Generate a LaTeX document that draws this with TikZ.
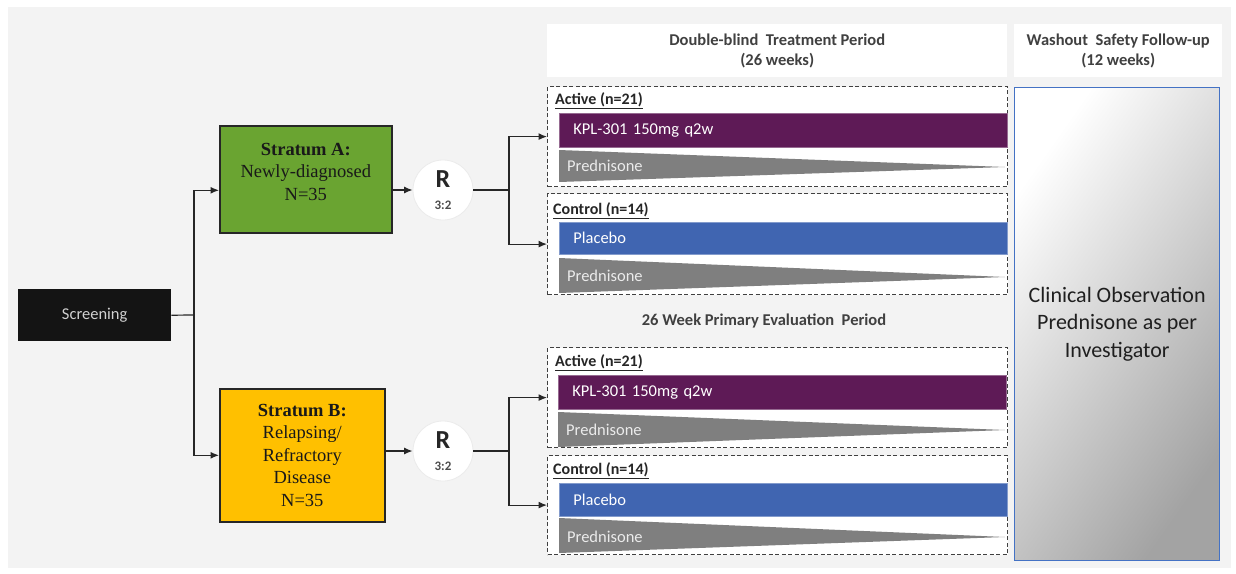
\documentclass[tikz,border=0pt]{standalone}
\usepackage{fontspec}
\setmainfont{Carlito}
\newfontfamily\stfont{Liberation Serif}
\usetikzlibrary{arrows.meta,calc,shadings}
\definecolor{bgc}{HTML}{F3F3F3}
\definecolor{stgreen}{HTML}{6AA431}
\definecolor{stgold}{HTML}{FFC000}
\definecolor{kpl}{HTML}{5E1A56}
\definecolor{plc}{HTML}{4065B1}
\definecolor{pred}{HTML}{7F7F7F}
\definecolor{hdr}{HTML}{404040}
\definecolor{pnl}{HTML}{4472C4}
\begin{document}
\begin{tikzpicture}[x=1pt,y=-1pt,
  ln/.style={line width=1.2pt, black!85},
  arr/.style={ln, -{Latex[length=8.5pt,width=7pt]}},
  hdrbox/.style={fill=white, inner sep=0pt, align=center, text=hdr,
     font=\bfseries\fontsize{16.5}{20}\selectfont, anchor=north west},
  stratum/.style={draw=black!85, line width=1.6pt, inner sep=0pt, align=center,
     anchor=north west, font=\stfont\fontsize{18.5}{22.5}\selectfont, text=black!90},
  rc/.style={circle, fill=white, draw=black!8, line width=0.8pt, minimum size=60pt,
     inner sep=0pt, align=center},
  dbox/.style={draw=black!75, dash pattern=on 4pt off 2.5pt, line width=1.2pt,
     fill=white, inner sep=0pt, anchor=north west, minimum width=460pt},
  bar/.style={anchor=north west, inner sep=0pt, minimum width=448pt, text=white,
     font=\fontsize{16.5}{18}\selectfont, text width=436pt, align=left, inner xsep=0pt},
  grp/.style={anchor=west, inner sep=0pt, text=black!85,
     font=\bfseries\fontsize{16}{18}\selectfont},
  prd/.style={anchor=west, inner sep=0pt, text=white!92!black,
     font=\fontsize{16.5}{18}\selectfont}
]
\useasboundingbox (0,0) rectangle (1236,573);
\fill[white] (0,0) rectangle (1236,573);
\fill[bgc] (8,7) rectangle (1231,568);

% headers
\node[hdrbox, minimum width=460pt, minimum height=53pt] (h1) at (547,24)
  {Double-blind\ \ Treatment Period\\(26 weeks)};
\node[hdrbox, minimum width=208pt, minimum height=53pt] (h2) at (1014,24)
  {Washout\ \ Safety Follow-up\\(12 weeks)};

% screening
\node[fill=black!92, text=black!18, minimum width=153pt, minimum height=52pt,
  inner sep=0pt, anchor=north west, font=\fontsize{16.5}{18}\selectfont] (scr) at (18,289) {Screening};

% strata
\node[stratum, fill=stgreen, minimum width=172pt, minimum height=107pt] (stA) at (219,125)
  {\textbf{Stratum A:}\\Newly-diagnosed\\N=35\\[-7.5pt]};
\node[stratum, fill=stgold, minimum width=165pt, minimum height=133pt] (stB) at (219,388)
  {\textbf{Stratum B:}\\Relapsing/\\Refractory\\Disease\\N=35};

% randomisation
\node[rc] (rA) at (443,190)
  {{\fontsize{26}{22}\selectfont\bfseries\color{black!85}R}\\[10pt]{\fontsize{13}{13}\selectfont\bfseries\color{black!70}3:2}};
\node[rc] (rB) at (443,451)
  {{\fontsize{26}{22}\selectfont\bfseries\color{black!85}R}\\[10pt]{\fontsize{13}{13}\selectfont\bfseries\color{black!70}3:2}};

% dashed arm boxes
\node[dbox, minimum height=100pt] (actA) at (547,86) {};
\node[dbox, minimum height=101pt] (ctlA) at (547,193) {};
\node[dbox, minimum height=100pt] (actB) at (547,347) {};
\node[dbox, minimum height=99pt] (ctlB) at (547,455) {};

% arm A active
\node[grp] (lA1) at (555,101) {\underline{Active (n=21)}};
\node[bar, fill=kpl, draw=kpl!65!white, line width=0.6pt, minimum height=34pt] (kA) at (559,113)
  {\hspace*{8pt}KPL-301 150mg q2w};
\fill[pred] (559,150) -- (1005,167) -- (559,182) -- cycle;
\node[prd] (pA1) at (567,166) {Prednisone};
% arm A control
\node[grp] (lA2) at (553,211) {\underline{Control (n=14)}};
\node[bar, fill=plc, draw=plc!65!white, line width=0.6pt, minimum height=32pt] (bA) at (559,222)
  {\hspace*{8pt}Placebo};
\fill[pred] (559,258) -- (1005,277) -- (559,293) -- cycle;
\node[prd] (pA2) at (567,276) {Prednisone};

% arm B active
\node[grp] (lB1) at (555,363) {\underline{Active (n=21)}};
\node[bar, fill=kpl, draw=kpl!65!white, line width=0.6pt, minimum height=34pt] (kB) at (558,375)
  {\hspace*{8pt}KPL-301 150mg q2w};
\fill[pred] (558,412) -- (1005,430) -- (558,447) -- cycle;
\node[prd] (pB1) at (566,430) {Prednisone};
% arm B control
\node[grp] (lB2) at (553,471) {\underline{Control (n=14)}};
\node[bar, fill=plc, draw=plc!65!white, line width=0.6pt, minimum height=33pt] (bB) at (559,483)
  {\hspace*{8pt}Placebo};
\fill[pred] (559,518) -- (1005,537) -- (559,553) -- cycle;
\node[prd] (pB2) at (567,537) {Prednisone};

% middle label
\node[text=hdr, font=\bfseries\fontsize{16.5}{18}\selectfont] (mid) at (764,321)
  {26 Week Primary Evaluation\ \ Period};

% follow-up panel
\node[anchor=north west, minimum width=205pt, minimum height=473pt, inner sep=0pt,
  shading=axis, top color=white, bottom color=gray!72, shading angle=55,
  draw=pnl, line width=1.3pt, align=center, text=black!88,
  font=\fontsize{22}{27.5}\selectfont] (obs) at (1014,87)
  {Clinical Observation\\Prednisone as per\\Investigator};

% connectors
\coordinate (jS) at (194,315);
\coordinate (jA) at (509,190);
\coordinate (jB) at (509,451);
\draw[ln] (scr.east) -- (jS);
\draw[arr] (jS) |- ([yshift=-11pt]stA.west);
\draw[arr] (jS) |- (stB.west);
\draw[arr] (stA.east |- rA.west) -- (rA.west);
\draw[arr] (stB.east |- rB.west) -- (rB.west);
\draw[ln] (rA.east) -- (jA);
\draw[arr] (jA) |- (actA.west);
\draw[arr] (jA) |- (ctlA.west);
\draw[ln, line width=1.7pt] (rB.east) -- (jB);
\draw[arr] (jB) |- (actB.west);
\draw[arr] (jB) |- (ctlB.west);
\end{tikzpicture}
\end{document}
